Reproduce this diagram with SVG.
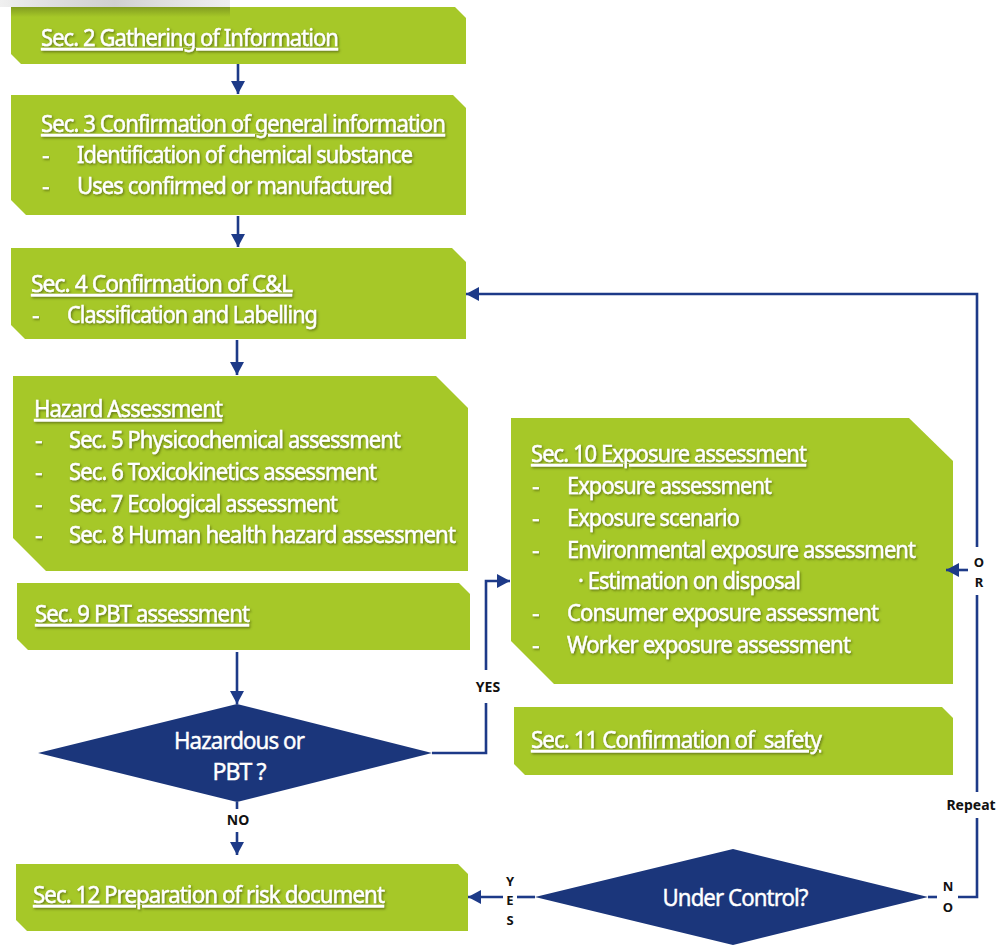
<svg xmlns="http://www.w3.org/2000/svg" width="1000" height="945" viewBox="0 0 1000 945">
<style>
.box{fill:#A6C828;}
.dia{fill:#1B367B;}
.t{font-family:"Noto Sans","Liberation Sans",sans-serif;font-size:24px;letter-spacing:-1px;fill:#FFFFFF;stroke:#FFFFFF;stroke-width:0.45;filter:url(#sh);}
.h{text-decoration:underline;}
.dt{font-family:"Noto Sans","Liberation Sans",sans-serif;font-size:24px;letter-spacing:-1px;fill:#FFFFFF;stroke:#FFFFFF;stroke-width:0.45;text-anchor:middle;}
.lbl{font-family:"Noto Sans","Liberation Sans",sans-serif;font-size:14px;font-weight:bold;fill:#111111;text-anchor:middle;}
.sl{font-family:"Noto Sans","Liberation Sans",sans-serif;font-size:13px;font-weight:bold;fill:#111111;text-anchor:middle;}
.ln{fill:none;stroke:#1D3A88;stroke-width:2.6;}
.ar{marker-end:url(#ah);}
</style>
<defs>
<filter id="sh" x="-5%" y="-30%" width="110%" height="160%">
<feDropShadow dx="1.2" dy="1.4" stdDeviation="0.9" flood-color="#3E4A12" flood-opacity="0.65"/>
</filter>
<marker id="ah" markerUnits="userSpaceOnUse" markerWidth="14" markerHeight="14" refX="13" refY="7" orient="auto">
<path d="M0,0 L13,7 L0,14 z" fill="#1D3A88"/>
</marker>
<linearGradient id="topg" x1="0" y1="0" x2="1" y2="0">
<stop offset="0" stop-color="#9A9A9A" stop-opacity="0.15"/>
<stop offset="0.5" stop-color="#B0B0B0" stop-opacity="0.6"/>
<stop offset="1" stop-color="#C8C8C8" stop-opacity="0.3"/>
</linearGradient>
<linearGradient id="topd" x1="0" y1="0" x2="0" y2="1">
<stop offset="0" stop-color="#3E4A12" stop-opacity="0.35"/>
<stop offset="1" stop-color="#3E4A12" stop-opacity="0"/>
</linearGradient>
</defs>
<rect x="0" y="0" width="230" height="7" fill="url(#topg)"/>

<g id="sec2">
<polygon class="box" points="11,7 455,7 466,18 466,64 21,64 11,54"/>
<rect x="11" y="7" width="219" height="10" fill="url(#topd)"/>
<text class="t h" x="41" y="46" textLength="297" lengthAdjust="spacingAndGlyphs">Sec. 2 Gathering of Information</text>
</g>

<g id="sec3">
<polygon class="box" points="11,95 453,95 466,108 466,215 26,215 11,200"/>
<text class="t h" x="41" y="132" textLength="404" lengthAdjust="spacingAndGlyphs">Sec. 3 Confirmation of general information</text>
<text class="t" x="42" y="163">-</text>
<text class="t" x="77" y="163" textLength="335" lengthAdjust="spacingAndGlyphs">Identification of chemical substance</text>
<text class="t" x="42" y="194">-</text>
<text class="t" x="77" y="194" textLength="315" lengthAdjust="spacingAndGlyphs">Uses confirmed or manufactured</text>
</g>

<g id="sec4">
<polygon class="box" points="11,248 452,248 466,262 466,339 25,339 11,325"/>
<text class="t h" x="31" y="292" textLength="261" lengthAdjust="spacingAndGlyphs">Sec. 4 Confirmation of C&amp;L</text>
<text class="t" x="32" y="323">-</text>
<text class="t" x="67" y="323" textLength="250" lengthAdjust="spacingAndGlyphs">Classification and Labelling</text>
</g>

<g id="hazard">
<polygon class="box" points="13,376 436,376 468,408 468,571 46,571 13,538"/>
<text class="t h" x="34" y="417" textLength="188" lengthAdjust="spacingAndGlyphs">Hazard Assessment</text>
<text class="t" x="35" y="448">-</text>
<text class="t" x="69" y="448" textLength="331" lengthAdjust="spacingAndGlyphs">Sec. 5 Physicochemical assessment</text>
<text class="t" x="35" y="480">-</text>
<text class="t" x="69" y="480" textLength="307" lengthAdjust="spacingAndGlyphs">Sec. 6 Toxicokinetics assessment</text>
<text class="t" x="35" y="512">-</text>
<text class="t" x="69" y="512" textLength="268" lengthAdjust="spacingAndGlyphs">Sec. 7 Ecological assessment</text>
<text class="t" x="35" y="543">-</text>
<text class="t" x="69" y="543" textLength="386" lengthAdjust="spacingAndGlyphs">Sec. 8 Human health hazard assessment</text>
</g>

<g id="sec9">
<polygon class="box" points="17,583 459,583 470,594 470,650 28,650 17,639"/>
<text class="t h" x="35" y="622" textLength="214" lengthAdjust="spacingAndGlyphs">Sec. 9 PBT assessment</text>
</g>

<g id="hazardous-or-pbt">
<polygon class="dia" points="38,753 237,704 432,753 237,802"/>
<text class="dt" x="239" y="749" textLength="130" lengthAdjust="spacingAndGlyphs">Hazardous or</text>
<text class="dt" x="239" y="780" textLength="53" lengthAdjust="spacingAndGlyphs">PBT ?</text>
</g>

<g id="sec12">
<polygon class="box" points="16,864 458,864 468,874 468,931 27,931 16,920"/>
<text class="t h" x="33" y="903" textLength="351" lengthAdjust="spacingAndGlyphs">Sec. 12 Preparation of risk document</text>
</g>

<g id="sec10">
<polygon class="box" points="511,418 909,418 953,461 953,684 554,684 511,641"/>
<text class="t h" x="531" y="462" textLength="275" lengthAdjust="spacingAndGlyphs">Sec. 10 Exposure assessment</text>
<text class="t" x="532" y="494">-</text>
<text class="t" x="567" y="494" textLength="204" lengthAdjust="spacingAndGlyphs">Exposure assessment</text>
<text class="t" x="532" y="526">-</text>
<text class="t" x="567" y="526" textLength="172" lengthAdjust="spacingAndGlyphs">Exposure scenario</text>
<text class="t" x="532" y="558">-</text>
<text class="t" x="567" y="558" textLength="348" lengthAdjust="spacingAndGlyphs">Environmental exposure assessment</text>
<text class="t" x="578" y="589" textLength="222" lengthAdjust="spacingAndGlyphs">· Estimation on disposal</text>
<text class="t" x="532" y="621">-</text>
<text class="t" x="567" y="621" textLength="311" lengthAdjust="spacingAndGlyphs">Consumer exposure assessment</text>
<text class="t" x="532" y="653">-</text>
<text class="t" x="567" y="653" textLength="283" lengthAdjust="spacingAndGlyphs">Worker exposure assessment</text>
</g>

<g id="sec11">
<polygon class="box" points="514,707 942,707 953,718 953,775 525,775 514,764"/>
<text class="t h" x="531" y="748" textLength="290" lengthAdjust="spacingAndGlyphs" xml:space="preserve">Sec. 11 Confirmation of  safety</text>
</g>

<g id="under-control">
<polygon class="dia" points="535,897 733,849 928,897 733,945"/>
<text class="dt" x="735" y="906" textLength="145" lengthAdjust="spacingAndGlyphs">Under Control?</text>
</g>

<g id="connectors">
<path class="ln ar" d="M238,64 V94"/>
<path class="ln ar" d="M238,216 V247"/>
<path class="ln ar" d="M237,340 V375"/>
<path class="ln ar" d="M237,652 V704"/>
<path class="ln" d="M237,802 V809"/>
<path class="ln ar" d="M237,832 V855"/>
<text class="lbl" x="238" y="825">NO</text>
<path class="ln" d="M432,753 H486 V703"/>
<path class="ln ar" d="M486,670 V581 H510"/>
<text class="lbl" x="488" y="692">YES</text>
<path class="ln" d="M535,897 H517"/>
<path class="ln ar" d="M503,897 H468"/>
<text class="sl" x="510" y="886">Y</text>
<text class="sl" x="510" y="905">E</text>
<text class="sl" x="510" y="925">S</text>
<path class="ln" d="M928,897 H937"/>
<path class="ln" d="M958,897 H977 V818"/>
<path class="ln" d="M977,792 V595"/>
<path class="ln ar" d="M977,547 V294 H466"/>
<text class="sl" x="948" y="891">N</text>
<text class="sl" x="948" y="912">O</text>
<text class="lbl" x="971" y="810">Repeat</text>
<path class="ln ar" d="M968,570 H946"/>
<text class="sl" x="979" y="567">O</text>
<text class="sl" x="979" y="587">R</text>
</g>
</svg>
